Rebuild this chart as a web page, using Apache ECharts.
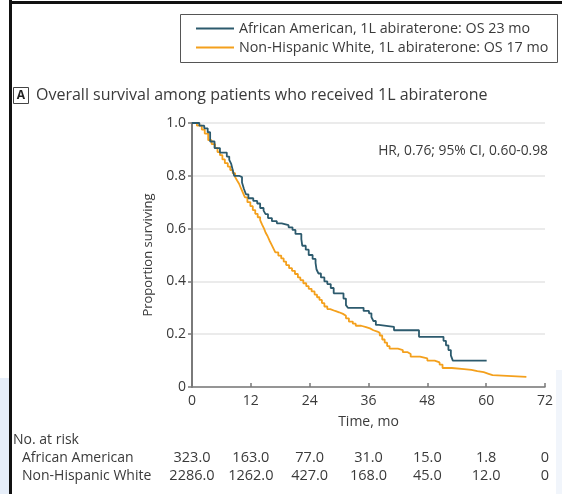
<!DOCTYPE html>
<html>
<head>
<meta charset="utf-8">
<script src="https://cdn.jsdelivr.net/npm/echarts@6/dist/echarts.min.js"></script>
<style>
  html, body { margin: 0; padding: 0; background: #fff; }
  #chart { width: 562px; height: 494px; }
</style>
</head>
<body>
<div id="chart"></div>
<script>
// Kaplan-Meier step curves: [month, proportion surviving after the event at that month]
const aaTimes = [0, 1.5, 2.5, 3.2, 3.7, 4.6, 5.7, 7.1, 7.6, 8.0, 8.2, 8.6, 9.6, 10.2, 10.6, 11.0, 11.5, 12.5, 13.3, 13.9, 14.6, 15.0, 15.5, 16.3, 17.3, 18.3, 19.7, 20.5, 21.1, 22.3, 22.5, 23.2, 23.8, 24.6, 25.2, 25.4, 25.8, 26.3, 27.0, 27.6, 28.3, 28.9, 30.9, 31.4, 31.8, 35.0, 36.1, 36.6, 37.0, 37.5, 38.1, 41.2, 46.3, 51.3, 51.8, 52.3, 52.8, 53.2, 60.1];
const aaSurv  = [1.0, 0.99, 0.98, 0.965, 0.93, 0.905, 0.888, 0.873, 0.86, 0.845, 0.83, 0.80, 0.795, 0.775, 0.75, 0.73, 0.715, 0.705, 0.695, 0.678, 0.668, 0.655, 0.64, 0.628, 0.62, 0.613, 0.605, 0.595, 0.58, 0.56, 0.535, 0.52, 0.50, 0.485, 0.47, 0.445, 0.43, 0.415, 0.40, 0.39, 0.375, 0.355, 0.335, 0.31, 0.30, 0.288, 0.279, 0.265, 0.25, 0.235, 0.228, 0.215, 0.19, 0.175, 0.158, 0.14, 0.12, 0.10, 0.10];

const nhwTimes = [0, 1.0, 2.0, 2.6, 3.3, 4.0, 4.7, 5.2, 5.7, 6.2, 6.7, 7.3, 7.8, 8.3, 8.8, 9.2, 9.6, 10.0, 10.4, 10.8, 11.3, 11.9, 12.4, 12.9, 13.4, 13.9, 14.3, 14.7, 15.0, 15.4, 15.8, 16.2, 16.6, 17.0, 17.6, 18.2, 18.7, 19.2, 19.8, 20.4, 21.0, 21.6, 22.1, 22.7, 23.3, 23.8, 24.4, 25.0, 25.5, 26.0, 26.5, 27.0, 27.6, 28.2, 29.2, 30.0, 30.8, 31.4, 32.0, 32.8, 33.4, 34.5, 35.5, 36.3, 37.0, 37.8, 38.3, 38.8, 39.3, 39.8, 40.3, 42.0, 43.0, 44.0, 44.6, 46.5, 48.0, 49.5, 50.5, 51.1, 53.0, 55.5, 57.0, 58.2, 59.5, 60.5, 61.3, 68.2];
const nhwSurv  = [1.0, 0.99, 0.975, 0.96, 0.935, 0.92, 0.905, 0.89, 0.878, 0.862, 0.848, 0.835, 0.822, 0.81, 0.795, 0.782, 0.77, 0.752, 0.735, 0.718, 0.70, 0.685, 0.67, 0.656, 0.643, 0.632, 0.615, 0.60, 0.585, 0.572, 0.555, 0.54, 0.525, 0.51, 0.498, 0.487, 0.475, 0.462, 0.45, 0.44, 0.428, 0.415, 0.405, 0.393, 0.382, 0.372, 0.362, 0.35, 0.34, 0.33, 0.318, 0.305, 0.295, 0.288, 0.283, 0.277, 0.27, 0.26, 0.248, 0.24, 0.232, 0.227, 0.222, 0.215, 0.21, 0.205, 0.195, 0.18, 0.168, 0.155, 0.145, 0.14, 0.132, 0.125, 0.115, 0.108, 0.10, 0.093, 0.085, 0.072, 0.068, 0.065, 0.06, 0.056, 0.05, 0.045, 0.038, 0.038];

// Numbers at risk at each x tick (0, 12, ..., 72 months)
const riskTicks = [0, 12, 24, 36, 48, 60, 72];
const riskAA  = ['323.0', '163.0', '77.0', '31.0', '15.0', '1.8', '0'];
const riskNHW = ['2286.0', '1262.0', '427.0', '168.0', '45.0', '12.0', '0'];

const seriesNames = ['African American, 1L abiraterone: OS 23 mo', 'Non-Hispanic White, 1L abiraterone: OS 17 mo'];
const seriesColors = ['#2c5a6d', '#f4a01c'];

const FONT = '"Open Sans", "Noto Sans", sans-serif';
const TEXT = '#3a3a3a';

const zip = (xs, ys) => xs.map((x, i) => [x, ys[i]]);

const chart = echarts.init(document.getElementById('chart'), null, { renderer: 'canvas' });

const plotLeft = 192, plotRight = 17;

chart.setOption({
  animation: false,
  backgroundColor: '#ffffff',
  textStyle: { fontFamily: FONT },
  grid: [
    { left: plotLeft, right: plotRight, top: 123, height: 264 },
    { left: plotLeft, right: plotRight, top: 449, height: 1 },
    { left: plotLeft, right: plotRight, top: 467, height: 1 }
  ],
  xAxis: [
    {
      gridIndex: 0, type: 'value', min: 0, max: 72, interval: 12,
      name: 'Time, mo', nameLocation: 'middle', nameGap: 28,
      nameTextStyle: { fontFamily: FONT, fontSize: 14, color: TEXT },
      axisLine: { lineStyle: { color: '#7a7a7a', width: 1.5 } },
      axisTick: { inside: true, length: 4, lineStyle: { color: '#7a7a7a', width: 1.5 } },
      axisLabel: { fontFamily: FONT, fontSize: 14, color: TEXT, margin: 7 },
      splitLine: { show: false }
    },
    {
      gridIndex: 1, type: 'category', boundaryGap: false, data: riskAA,
      axisLine: { show: false }, axisTick: { show: false }, splitLine: { show: false },
      axisLabel: { interval: 0, fontFamily: FONT, fontSize: 14.5, color: TEXT, margin: 0 }
    },
    {
      gridIndex: 2, type: 'category', boundaryGap: false, data: riskNHW,
      axisLine: { show: false }, axisTick: { show: false }, splitLine: { show: false },
      axisLabel: { interval: 0, fontFamily: FONT, fontSize: 14.5, color: TEXT, margin: 0 }
    }
  ],
  yAxis: [
    {
      gridIndex: 0, type: 'value', min: 0, max: 1, interval: 0.2,
      name: 'Proportion surviving', nameLocation: 'middle', nameGap: 37,
      nameTextStyle: { fontFamily: FONT, fontSize: 13, color: TEXT },
      axisLine: { show: true, lineStyle: { color: '#7a7a7a', width: 2 } },
      axisTick: { show: true, length: 4, lineStyle: { color: '#7a7a7a', width: 1.5 } },
      axisLabel: {
        fontFamily: FONT, fontSize: 14, color: TEXT, margin: 6,
        formatter: v => (v === 0 ? '0' : v.toFixed(1))
      },
      splitLine: { show: true, lineStyle: { color: '#e4e4e4', width: 1.5 } }
    },
    { gridIndex: 1, type: 'value', show: false },
    { gridIndex: 2, type: 'value', show: false }
  ],
  legend: {
    orient: 'vertical', left: 196, top: 19, itemWidth: 38, itemHeight: 1.8, itemGap: 0,
    icon: 'rect', padding: 0,
    textStyle: { fontFamily: FONT, fontSize: 14.3, color: TEXT, lineHeight: 19 },
    data: seriesNames
  },
  series: [
    {
      name: seriesNames[0], type: 'line', step: 'end', symbol: 'none',
      xAxisIndex: 0, yAxisIndex: 0,
      lineStyle: { color: seriesColors[0], width: 1.8 }, itemStyle: { color: seriesColors[0] },
      data: zip(aaTimes, aaSurv), z: 3
    },
    {
      name: seriesNames[1], type: 'line', step: 'end', symbol: 'none',
      xAxisIndex: 0, yAxisIndex: 0,
      lineStyle: { color: seriesColors[1], width: 1.8 }, itemStyle: { color: seriesColors[1] },
      data: zip(nhwTimes, nhwSurv), z: 2
    }
  ],
  graphic: [
    // page frame
    { type: 'rect', shape: { x: 0, y: 378, width: 9, height: 116 }, style: { fill: '#e6eef9' }, silent: true },
    { type: 'rect', shape: { x: 556, y: 370, width: 6, height: 124 }, style: { fill: '#f1f5fb' }, silent: true },
    { type: 'rect', shape: { x: 9, y: 0, width: 3, height: 494 }, style: { fill: '#111' }, silent: true },
    { type: 'rect', shape: { x: 9, y: 1, width: 553, height: 3 }, style: { fill: '#111' }, silent: true },
    // legend frame
    { type: 'rect', shape: { x: 180.5, y: 14.5, width: 377, height: 48 }, style: { fill: 'none', stroke: '#555', lineWidth: 1 }, silent: true },
    // panel label
    { type: 'rect', shape: { x: 13.5, y: 87.5, width: 15, height: 16 }, style: { fill: '#fff', stroke: '#444', lineWidth: 1 }, silent: true },
    { type: 'text', x: 21, y: 96, style: { text: 'A', fontFamily: FONT, fontSize: 12, fontWeight: 'bold', fill: '#222', align: 'center', verticalAlign: 'middle' }, silent: true },
    { type: 'text', x: 36, y: 95.5, style: { text: 'Overall survival among patients who received 1L abiraterone', fontFamily: FONT, fontSize: 16, fill: TEXT, align: 'left', verticalAlign: 'middle' }, silent: true },
    // hazard ratio
    { type: 'text', x: 548, y: 151, style: { text: 'HR, 0.76; 95% CI, 0.60-0.98', fontFamily: FONT, fontSize: 13.8, fill: TEXT, align: 'right', verticalAlign: 'middle' }, silent: true },
    // at-risk table row labels
    { type: 'text', x: 13, y: 440, style: { text: 'No. at risk', fontFamily: FONT, fontSize: 14, fill: TEXT, align: 'left', verticalAlign: 'middle' }, silent: true },
    { type: 'text', x: 22, y: 458, style: { text: 'African American', fontFamily: FONT, fontSize: 14, fill: TEXT, align: 'left', verticalAlign: 'middle' }, silent: true },
    { type: 'text', x: 22, y: 476, style: { text: 'Non-Hispanic White', fontFamily: FONT, fontSize: 14, fill: TEXT, align: 'left', verticalAlign: 'middle' }, silent: true }
  ]
});
</script>
</body>
</html>
